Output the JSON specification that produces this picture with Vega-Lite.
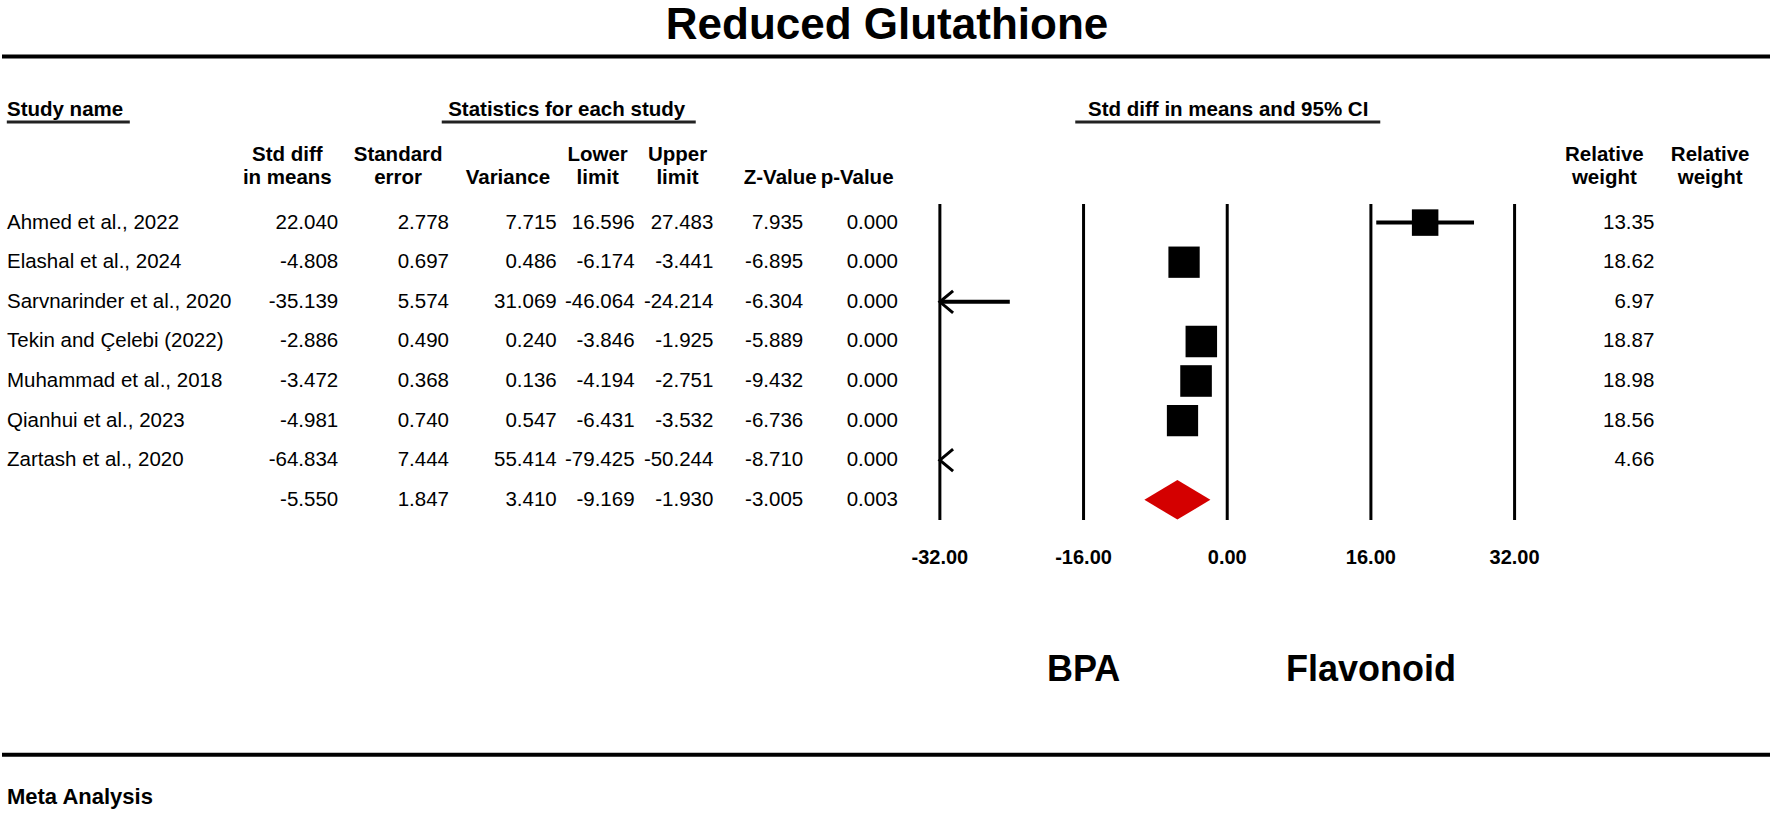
{
  "$schema": "https://vega.github.io/schema/vega-lite/v6.json",
  "width": 1772,
  "height": 816,
  "autosize": {"type": "fit", "contains": "padding"},
  "padding": 0,
  "background": "white",
  "config": {
    "view": {"stroke": null},
    "text": {"font": "Liberation Sans", "color": "black"},
    "locale": {"number": {"decimal": ".", "thousands": ",", "grouping": [3], "currency": ["$", ""], "minus": "-"}}
  },
  "datasets": {
    "studies": [
      {"study": "Ahmed et al., 2022", "kind": "study", "smd": 22.040, "se": 2.778, "var": 7.715, "lower": 16.596, "upper": 27.483, "z": 7.935, "p": 0.000, "weight": 13.35},
      {"study": "Elashal et al., 2024", "kind": "study", "smd": -4.808, "se": 0.697, "var": 0.486, "lower": -6.174, "upper": -3.441, "z": -6.895, "p": 0.000, "weight": 18.62},
      {"study": "Sarvnarinder et al., 2020", "kind": "study", "smd": -35.139, "se": 5.574, "var": 31.069, "lower": -46.064, "upper": -24.214, "z": -6.304, "p": 0.000, "weight": 6.97},
      {"study": "Tekin and Çelebi (2022)", "kind": "study", "smd": -2.886, "se": 0.490, "var": 0.240, "lower": -3.846, "upper": -1.925, "z": -5.889, "p": 0.000, "weight": 18.87},
      {"study": "Muhammad et al., 2018", "kind": "study", "smd": -3.472, "se": 0.368, "var": 0.136, "lower": -4.194, "upper": -2.751, "z": -9.432, "p": 0.000, "weight": 18.98},
      {"study": "Qianhui et al., 2023", "kind": "study", "smd": -4.981, "se": 0.740, "var": 0.547, "lower": -6.431, "upper": -3.532, "z": -6.736, "p": 0.000, "weight": 18.56},
      {"study": "Zartash et al., 2020", "kind": "study", "smd": -64.834, "se": 7.444, "var": 55.414, "lower": -79.425, "upper": -50.244, "z": -8.710, "p": 0.000, "weight": 4.66},
      {"study": "", "kind": "summary", "smd": -5.550, "se": 1.847, "var": 3.410, "lower": -9.169, "upper": -1.930, "z": -3.005, "p": 0.003, "weight": 0}
    ],
    "ticks": [{"v": -32}, {"v": -16}, {"v": 0}, {"v": 16}, {"v": 32}],
    "blank": [{"k": 1}]
  },
  "data": {"name": "studies"},
  "layer": [
    {
      "data": {"name": "blank"},
      "mark": {"type": "text", "text": "Reduced Glutathione", "fontSize": 44, "fontWeight": "bold", "align": "center", "baseline": "middle"},
      "encoding": {
        "x": {"datum": -37.89, "type": "quantitative", "axis": null, "scale": {"domain": [-136.444, 60.444], "nice": false, "zero": false}},
        "y": {"datum": -3.97, "type": "quantitative", "axis": null, "scale": {"domain": [-4.621, 15.985], "reverse": true, "nice": false, "zero": false}}
      }
    },
    {
      "data": {"name": "blank"},
      "mark": {"type": "rule", "strokeWidth": 4, "color": "black"},
      "encoding": {
        "y": {"datum": -3.194, "type": "quantitative", "axis": null, "scale": {"domain": [-4.621, 15.985], "reverse": true, "nice": false, "zero": false}}
      }
    },
    {
      "data": {"name": "blank"},
      "mark": {"type": "rule", "strokeWidth": 4, "color": "black"},
      "encoding": {
        "y": {"datum": 14.44, "type": "quantitative", "axis": null, "scale": {"domain": [-4.621, 15.985], "reverse": true, "nice": false, "zero": false}}
      }
    },
    {
      "data": {"name": "blank"},
      "mark": {"type": "text", "text": "Study name", "fontSize": 20.5, "fontWeight": "bold", "align": "left", "baseline": "middle"},
      "encoding": {
        "x": {"datum": -135.89, "type": "quantitative", "axis": null, "scale": {"domain": [-136.444, 60.444], "nice": false, "zero": false}},
        "y": {"datum": -1.841, "type": "quantitative", "axis": null, "scale": {"domain": [-4.621, 15.985], "reverse": true, "nice": false, "zero": false}}
      }
    },
    {
      "data": {"name": "blank"},
      "mark": {"type": "tick", "orient": "horizontal", "size": 123, "thickness": 3, "color": "#222222", "opacity": 1},
      "encoding": {
        "x": {"datum": -129.06, "type": "quantitative", "axis": null, "scale": {"domain": [-136.444, 60.444], "nice": false, "zero": false}},
        "y": {"datum": -1.541, "type": "quantitative", "axis": null, "scale": {"domain": [-4.621, 15.985], "reverse": true, "nice": false, "zero": false}}
      }
    },
    {
      "data": {"name": "blank"},
      "mark": {"type": "text", "text": "Statistics for each study", "fontSize": 20.5, "fontWeight": "bold", "align": "center", "baseline": "middle"},
      "encoding": {
        "x": {"datum": -73.56, "type": "quantitative", "axis": null, "scale": {"domain": [-136.444, 60.444], "nice": false, "zero": false}},
        "y": {"datum": -1.841, "type": "quantitative", "axis": null, "scale": {"domain": [-4.621, 15.985], "reverse": true, "nice": false, "zero": false}}
      }
    },
    {
      "data": {"name": "blank"},
      "mark": {"type": "tick", "orient": "horizontal", "size": 254, "thickness": 3, "color": "#222222", "opacity": 1},
      "encoding": {
        "x": {"datum": -73.33, "type": "quantitative", "axis": null, "scale": {"domain": [-136.444, 60.444], "nice": false, "zero": false}},
        "y": {"datum": -1.541, "type": "quantitative", "axis": null, "scale": {"domain": [-4.621, 15.985], "reverse": true, "nice": false, "zero": false}}
      }
    },
    {
      "data": {"name": "blank"},
      "mark": {"type": "text", "text": "Std diff in means and 95% CI", "fontSize": 20.5, "fontWeight": "bold", "align": "center", "baseline": "middle"},
      "encoding": {
        "x": {"datum": 0.11, "type": "quantitative", "axis": null, "scale": {"domain": [-136.444, 60.444], "nice": false, "zero": false}},
        "y": {"datum": -1.841, "type": "quantitative", "axis": null, "scale": {"domain": [-4.621, 15.985], "reverse": true, "nice": false, "zero": false}}
      }
    },
    {
      "data": {"name": "blank"},
      "mark": {"type": "tick", "orient": "horizontal", "size": 305, "thickness": 3, "color": "#222222", "opacity": 1},
      "encoding": {
        "x": {"datum": 0.06, "type": "quantitative", "axis": null, "scale": {"domain": [-136.444, 60.444], "nice": false, "zero": false}},
        "y": {"datum": -1.541, "type": "quantitative", "axis": null, "scale": {"domain": [-4.621, 15.985], "reverse": true, "nice": false, "zero": false}}
      }
    },
    {
      "data": {"name": "blank"},
      "mark": {"type": "text", "text": "Std diff", "fontSize": 20.5, "fontWeight": "bold", "align": "center", "baseline": "middle"},
      "encoding": {
        "x": {"datum": -104.67, "type": "quantitative", "axis": null, "scale": {"domain": [-136.444, 60.444], "nice": false, "zero": false}},
        "y": {"datum": -0.707, "type": "quantitative", "axis": null, "scale": {"domain": [-4.621, 15.985], "reverse": true, "nice": false, "zero": false}}
      }
    },
    {
      "data": {"name": "blank"},
      "mark": {"type": "text", "text": "in means", "fontSize": 20.5, "fontWeight": "bold", "align": "center", "baseline": "middle"},
      "encoding": {
        "x": {"datum": -104.67, "type": "quantitative", "axis": null, "scale": {"domain": [-136.444, 60.444], "nice": false, "zero": false}},
        "y": {"datum": -0.126, "type": "quantitative", "axis": null, "scale": {"domain": [-4.621, 15.985], "reverse": true, "nice": false, "zero": false}}
      }
    },
    {
      "data": {"name": "blank"},
      "mark": {"type": "text", "text": "Standard", "fontSize": 20.5, "fontWeight": "bold", "align": "center", "baseline": "middle"},
      "encoding": {
        "x": {"datum": -92.33, "type": "quantitative", "axis": null, "scale": {"domain": [-136.444, 60.444], "nice": false, "zero": false}},
        "y": {"datum": -0.707, "type": "quantitative", "axis": null, "scale": {"domain": [-4.621, 15.985], "reverse": true, "nice": false, "zero": false}}
      }
    },
    {
      "data": {"name": "blank"},
      "mark": {"type": "text", "text": "error", "fontSize": 20.5, "fontWeight": "bold", "align": "center", "baseline": "middle"},
      "encoding": {
        "x": {"datum": -92.33, "type": "quantitative", "axis": null, "scale": {"domain": [-136.444, 60.444], "nice": false, "zero": false}},
        "y": {"datum": -0.126, "type": "quantitative", "axis": null, "scale": {"domain": [-4.621, 15.985], "reverse": true, "nice": false, "zero": false}}
      }
    },
    {
      "data": {"name": "blank"},
      "mark": {"type": "text", "text": "Variance", "fontSize": 20.5, "fontWeight": "bold", "align": "center", "baseline": "middle"},
      "encoding": {
        "x": {"datum": -80.11, "type": "quantitative", "axis": null, "scale": {"domain": [-136.444, 60.444], "nice": false, "zero": false}},
        "y": {"datum": -0.126, "type": "quantitative", "axis": null, "scale": {"domain": [-4.621, 15.985], "reverse": true, "nice": false, "zero": false}}
      }
    },
    {
      "data": {"name": "blank"},
      "mark": {"type": "text", "text": "Lower", "fontSize": 20.5, "fontWeight": "bold", "align": "center", "baseline": "middle"},
      "encoding": {
        "x": {"datum": -70.11, "type": "quantitative", "axis": null, "scale": {"domain": [-136.444, 60.444], "nice": false, "zero": false}},
        "y": {"datum": -0.707, "type": "quantitative", "axis": null, "scale": {"domain": [-4.621, 15.985], "reverse": true, "nice": false, "zero": false}}
      }
    },
    {
      "data": {"name": "blank"},
      "mark": {"type": "text", "text": "limit", "fontSize": 20.5, "fontWeight": "bold", "align": "center", "baseline": "middle"},
      "encoding": {
        "x": {"datum": -70.11, "type": "quantitative", "axis": null, "scale": {"domain": [-136.444, 60.444], "nice": false, "zero": false}},
        "y": {"datum": -0.126, "type": "quantitative", "axis": null, "scale": {"domain": [-4.621, 15.985], "reverse": true, "nice": false, "zero": false}}
      }
    },
    {
      "data": {"name": "blank"},
      "mark": {"type": "text", "text": "Upper", "fontSize": 20.5, "fontWeight": "bold", "align": "center", "baseline": "middle"},
      "encoding": {
        "x": {"datum": -61.22, "type": "quantitative", "axis": null, "scale": {"domain": [-136.444, 60.444], "nice": false, "zero": false}},
        "y": {"datum": -0.707, "type": "quantitative", "axis": null, "scale": {"domain": [-4.621, 15.985], "reverse": true, "nice": false, "zero": false}}
      }
    },
    {
      "data": {"name": "blank"},
      "mark": {"type": "text", "text": "limit", "fontSize": 20.5, "fontWeight": "bold", "align": "center", "baseline": "middle"},
      "encoding": {
        "x": {"datum": -61.22, "type": "quantitative", "axis": null, "scale": {"domain": [-136.444, 60.444], "nice": false, "zero": false}},
        "y": {"datum": -0.126, "type": "quantitative", "axis": null, "scale": {"domain": [-4.621, 15.985], "reverse": true, "nice": false, "zero": false}}
      }
    },
    {
      "data": {"name": "blank"},
      "mark": {"type": "text", "text": "Z-Value", "fontSize": 20.5, "fontWeight": "bold", "align": "center", "baseline": "middle"},
      "encoding": {
        "x": {"datum": -49.78, "type": "quantitative", "axis": null, "scale": {"domain": [-136.444, 60.444], "nice": false, "zero": false}},
        "y": {"datum": -0.126, "type": "quantitative", "axis": null, "scale": {"domain": [-4.621, 15.985], "reverse": true, "nice": false, "zero": false}}
      }
    },
    {
      "data": {"name": "blank"},
      "mark": {"type": "text", "text": "p-Value", "fontSize": 20.5, "fontWeight": "bold", "align": "center", "baseline": "middle"},
      "encoding": {
        "x": {"datum": -41.22, "type": "quantitative", "axis": null, "scale": {"domain": [-136.444, 60.444], "nice": false, "zero": false}},
        "y": {"datum": -0.126, "type": "quantitative", "axis": null, "scale": {"domain": [-4.621, 15.985], "reverse": true, "nice": false, "zero": false}}
      }
    },
    {
      "data": {"name": "blank"},
      "mark": {"type": "text", "text": "Relative", "fontSize": 20.5, "fontWeight": "bold", "align": "center", "baseline": "middle"},
      "encoding": {
        "x": {"datum": 42.0, "type": "quantitative", "axis": null, "scale": {"domain": [-136.444, 60.444], "nice": false, "zero": false}},
        "y": {"datum": -0.707, "type": "quantitative", "axis": null, "scale": {"domain": [-4.621, 15.985], "reverse": true, "nice": false, "zero": false}}
      }
    },
    {
      "data": {"name": "blank"},
      "mark": {"type": "text", "text": "weight", "fontSize": 20.5, "fontWeight": "bold", "align": "center", "baseline": "middle"},
      "encoding": {
        "x": {"datum": 42.0, "type": "quantitative", "axis": null, "scale": {"domain": [-136.444, 60.444], "nice": false, "zero": false}},
        "y": {"datum": -0.126, "type": "quantitative", "axis": null, "scale": {"domain": [-4.621, 15.985], "reverse": true, "nice": false, "zero": false}}
      }
    },
    {
      "data": {"name": "blank"},
      "mark": {"type": "text", "text": "Relative", "fontSize": 20.5, "fontWeight": "bold", "align": "center", "baseline": "middle"},
      "encoding": {
        "x": {"datum": 53.78, "type": "quantitative", "axis": null, "scale": {"domain": [-136.444, 60.444], "nice": false, "zero": false}},
        "y": {"datum": -0.707, "type": "quantitative", "axis": null, "scale": {"domain": [-4.621, 15.985], "reverse": true, "nice": false, "zero": false}}
      }
    },
    {
      "data": {"name": "blank"},
      "mark": {"type": "text", "text": "weight", "fontSize": 20.5, "fontWeight": "bold", "align": "center", "baseline": "middle"},
      "encoding": {
        "x": {"datum": 53.78, "type": "quantitative", "axis": null, "scale": {"domain": [-136.444, 60.444], "nice": false, "zero": false}},
        "y": {"datum": -0.126, "type": "quantitative", "axis": null, "scale": {"domain": [-4.621, 15.985], "reverse": true, "nice": false, "zero": false}}
      }
    },
    {
      "transform": [{"window": [{"op": "row_number", "as": "row"}]}, {"filter": "datum.kind == 'study' && datum.upper > -32"}],
      "mark": {"type": "rule", "strokeWidth": 4, "color": "black"},
      "encoding": {
        "x": {"field": "lower", "type": "quantitative", "axis": null, "scale": {"domain": [-136.444, 60.444], "nice": false, "zero": false}},
        "x2": {"field": "upper"},
        "y": {"field": "row", "type": "quantitative", "axis": null, "scale": {"domain": [-4.621, 15.985], "reverse": true, "nice": false, "zero": false}}
      }
    },
    {
      "transform": [{"window": [{"op": "row_number", "as": "row"}]}, {"filter": "datum.kind == 'study' && datum.lower < -32 && datum.upper > -32"}],
      "mark": {"type": "tick", "orient": "horizontal", "size": 132, "thickness": 10, "color": "white", "opacity": 1},
      "encoding": {
        "x": {"datum": -39.2, "type": "quantitative", "axis": null, "scale": {"domain": [-136.444, 60.444], "nice": false, "zero": false}},
        "y": {"field": "row", "type": "quantitative", "axis": null, "scale": {"domain": [-4.621, 15.985], "reverse": true, "nice": false, "zero": false}}
      }
    },
    {
      "transform": [{"window": [{"op": "row_number", "as": "row"}]}, {"filter": "datum.kind == 'study'"}],
      "mark": {"type": "text", "fontSize": 20.5, "align": "left", "baseline": "middle"},
      "encoding": {
        "x": {"datum": -135.89, "type": "quantitative", "axis": null, "scale": {"domain": [-136.444, 60.444], "nice": false, "zero": false}},
        "y": {"field": "row", "type": "quantitative", "axis": null, "scale": {"domain": [-4.621, 15.985], "reverse": true, "nice": false, "zero": false}},
        "text": {"field": "study", "type": "nominal"}
      }
    },
    {
      "transform": [{"window": [{"op": "row_number", "as": "row"}]}],
      "mark": {"type": "text", "fontSize": 20.5, "align": "right", "baseline": "middle"},
      "encoding": {
        "x": {"datum": -99.0, "type": "quantitative", "axis": null, "scale": {"domain": [-136.444, 60.444], "nice": false, "zero": false}},
        "y": {"field": "row", "type": "quantitative", "axis": null, "scale": {"domain": [-4.621, 15.985], "reverse": true, "nice": false, "zero": false}},
        "text": {"field": "smd", "type": "quantitative", "format": ".3f"}
      }
    },
    {
      "transform": [{"window": [{"op": "row_number", "as": "row"}]}],
      "mark": {"type": "text", "fontSize": 20.5, "align": "right", "baseline": "middle"},
      "encoding": {
        "x": {"datum": -86.67, "type": "quantitative", "axis": null, "scale": {"domain": [-136.444, 60.444], "nice": false, "zero": false}},
        "y": {"field": "row", "type": "quantitative", "axis": null, "scale": {"domain": [-4.621, 15.985], "reverse": true, "nice": false, "zero": false}},
        "text": {"field": "se", "type": "quantitative", "format": ".3f"}
      }
    },
    {
      "transform": [{"window": [{"op": "row_number", "as": "row"}]}],
      "mark": {"type": "text", "fontSize": 20.5, "align": "right", "baseline": "middle"},
      "encoding": {
        "x": {"datum": -74.67, "type": "quantitative", "axis": null, "scale": {"domain": [-136.444, 60.444], "nice": false, "zero": false}},
        "y": {"field": "row", "type": "quantitative", "axis": null, "scale": {"domain": [-4.621, 15.985], "reverse": true, "nice": false, "zero": false}},
        "text": {"field": "var", "type": "quantitative", "format": ".3f"}
      }
    },
    {
      "transform": [{"window": [{"op": "row_number", "as": "row"}]}],
      "mark": {"type": "text", "fontSize": 20.5, "align": "right", "baseline": "middle"},
      "encoding": {
        "x": {"datum": -66.0, "type": "quantitative", "axis": null, "scale": {"domain": [-136.444, 60.444], "nice": false, "zero": false}},
        "y": {"field": "row", "type": "quantitative", "axis": null, "scale": {"domain": [-4.621, 15.985], "reverse": true, "nice": false, "zero": false}},
        "text": {"field": "lower", "type": "quantitative", "format": ".3f"}
      }
    },
    {
      "transform": [{"window": [{"op": "row_number", "as": "row"}]}],
      "mark": {"type": "text", "fontSize": 20.5, "align": "right", "baseline": "middle"},
      "encoding": {
        "x": {"datum": -57.22, "type": "quantitative", "axis": null, "scale": {"domain": [-136.444, 60.444], "nice": false, "zero": false}},
        "y": {"field": "row", "type": "quantitative", "axis": null, "scale": {"domain": [-4.621, 15.985], "reverse": true, "nice": false, "zero": false}},
        "text": {"field": "upper", "type": "quantitative", "format": ".3f"}
      }
    },
    {
      "transform": [{"window": [{"op": "row_number", "as": "row"}]}],
      "mark": {"type": "text", "fontSize": 20.5, "align": "right", "baseline": "middle"},
      "encoding": {
        "x": {"datum": -47.22, "type": "quantitative", "axis": null, "scale": {"domain": [-136.444, 60.444], "nice": false, "zero": false}},
        "y": {"field": "row", "type": "quantitative", "axis": null, "scale": {"domain": [-4.621, 15.985], "reverse": true, "nice": false, "zero": false}},
        "text": {"field": "z", "type": "quantitative", "format": ".3f"}
      }
    },
    {
      "transform": [{"window": [{"op": "row_number", "as": "row"}]}],
      "mark": {"type": "text", "fontSize": 20.5, "align": "right", "baseline": "middle"},
      "encoding": {
        "x": {"datum": -36.67, "type": "quantitative", "axis": null, "scale": {"domain": [-136.444, 60.444], "nice": false, "zero": false}},
        "y": {"field": "row", "type": "quantitative", "axis": null, "scale": {"domain": [-4.621, 15.985], "reverse": true, "nice": false, "zero": false}},
        "text": {"field": "p", "type": "quantitative", "format": ".3f"}
      }
    },
    {
      "transform": [{"window": [{"op": "row_number", "as": "row"}]}, {"filter": "datum.kind == 'study'"}],
      "mark": {"type": "text", "fontSize": 20.5, "align": "right", "baseline": "middle"},
      "encoding": {
        "x": {"datum": 47.56, "type": "quantitative", "axis": null, "scale": {"domain": [-136.444, 60.444], "nice": false, "zero": false}},
        "y": {"field": "row", "type": "quantitative", "axis": null, "scale": {"domain": [-4.621, 15.985], "reverse": true, "nice": false, "zero": false}},
        "text": {"field": "weight", "type": "quantitative", "format": ".2f"}
      }
    },
    {
      "data": {"name": "ticks"},
      "mark": {"type": "tick", "orient": "vertical", "size": 316, "thickness": 3, "color": "black", "opacity": 1},
      "encoding": {
        "x": {"field": "v", "type": "quantitative", "axis": null, "scale": {"domain": [-136.444, 60.444], "nice": false, "zero": false}},
        "y": {"datum": 4.52, "type": "quantitative", "axis": null, "scale": {"domain": [-4.621, 15.985], "reverse": true, "nice": false, "zero": false}}
      }
    },
    {
      "data": {"name": "ticks"},
      "mark": {"type": "text", "fontSize": 20, "fontWeight": "bold", "align": "center", "baseline": "middle"},
      "encoding": {
        "x": {"field": "v", "type": "quantitative", "axis": null, "scale": {"domain": [-136.444, 60.444], "nice": false, "zero": false}},
        "y": {"datum": 9.47, "type": "quantitative", "axis": null, "scale": {"domain": [-4.621, 15.985], "reverse": true, "nice": false, "zero": false}},
        "text": {"field": "v", "type": "quantitative", "format": ".2f"}
      }
    },
    {
      "transform": [{"window": [{"op": "row_number", "as": "row"}]}, {"filter": "datum.kind == 'study' && datum.lower < -32"}],
      "mark": {"type": "point", "shape": "M1.2,-1L0,0L1.2,1", "filled": false, "stroke": "black", "strokeWidth": 3, "size": 484, "opacity": 1},
      "encoding": {
        "x": {"datum": -32, "type": "quantitative", "axis": null, "scale": {"domain": [-136.444, 60.444], "nice": false, "zero": false}},
        "y": {"field": "row", "type": "quantitative", "axis": null, "scale": {"domain": [-4.621, 15.985], "reverse": true, "nice": false, "zero": false}}
      }
    },
    {
      "transform": [{"window": [{"op": "row_number", "as": "row"}]}, {"filter": "datum.kind == 'study' && datum.smd >= -32"}],
      "mark": {"type": "point", "shape": "square", "filled": true, "color": "black", "opacity": 1},
      "encoding": {
        "x": {"field": "smd", "type": "quantitative", "axis": null, "scale": {"domain": [-136.444, 60.444], "nice": false, "zero": false}},
        "y": {"field": "row", "type": "quantitative", "axis": null, "scale": {"domain": [-4.621, 15.985], "reverse": true, "nice": false, "zero": false}},
        "size": {"field": "weight", "type": "quantitative", "legend": null, "scale": {"domain": [0, 20], "range": [0, 1052], "zero": true}}
      }
    },
    {
      "transform": [{"window": [{"op": "row_number", "as": "row"}]}, {"filter": "datum.kind == 'summary'"}],
      "mark": {"type": "point", "shape": "M-1,0L0,-0.6L1,0L0,0.6Z", "filled": true, "color": "#d40000", "size": 4356, "opacity": 1},
      "encoding": {
        "x": {"field": "smd", "type": "quantitative", "axis": null, "scale": {"domain": [-136.444, 60.444], "nice": false, "zero": false}},
        "y": {"field": "row", "type": "quantitative", "axis": null, "scale": {"domain": [-4.621, 15.985], "reverse": true, "nice": false, "zero": false}}
      }
    },
    {
      "data": {"name": "blank"},
      "mark": {"type": "text", "text": "BPA", "fontSize": 36, "fontWeight": "bold", "align": "center", "baseline": "middle"},
      "encoding": {
        "x": {"datum": -16, "type": "quantitative", "axis": null, "scale": {"domain": [-136.444, 60.444], "nice": false, "zero": false}},
        "y": {"datum": 12.3, "type": "quantitative", "axis": null, "scale": {"domain": [-4.621, 15.985], "reverse": true, "nice": false, "zero": false}}
      }
    },
    {
      "data": {"name": "blank"},
      "mark": {"type": "text", "text": "Flavonoid", "fontSize": 36, "fontWeight": "bold", "align": "center", "baseline": "middle"},
      "encoding": {
        "x": {"datum": 16, "type": "quantitative", "axis": null, "scale": {"domain": [-136.444, 60.444], "nice": false, "zero": false}},
        "y": {"datum": 12.3, "type": "quantitative", "axis": null, "scale": {"domain": [-4.621, 15.985], "reverse": true, "nice": false, "zero": false}}
      }
    },
    {
      "data": {"name": "blank"},
      "mark": {"type": "text", "text": "Meta Analysis", "fontSize": 22, "fontWeight": "bold", "align": "left", "baseline": "middle"},
      "encoding": {
        "x": {"datum": -135.89, "type": "quantitative", "axis": null, "scale": {"domain": [-136.444, 60.444], "nice": false, "zero": false}},
        "y": {"datum": 15.5, "type": "quantitative", "axis": null, "scale": {"domain": [-4.621, 15.985], "reverse": true, "nice": false, "zero": false}}
      }
    }
  ]
}
